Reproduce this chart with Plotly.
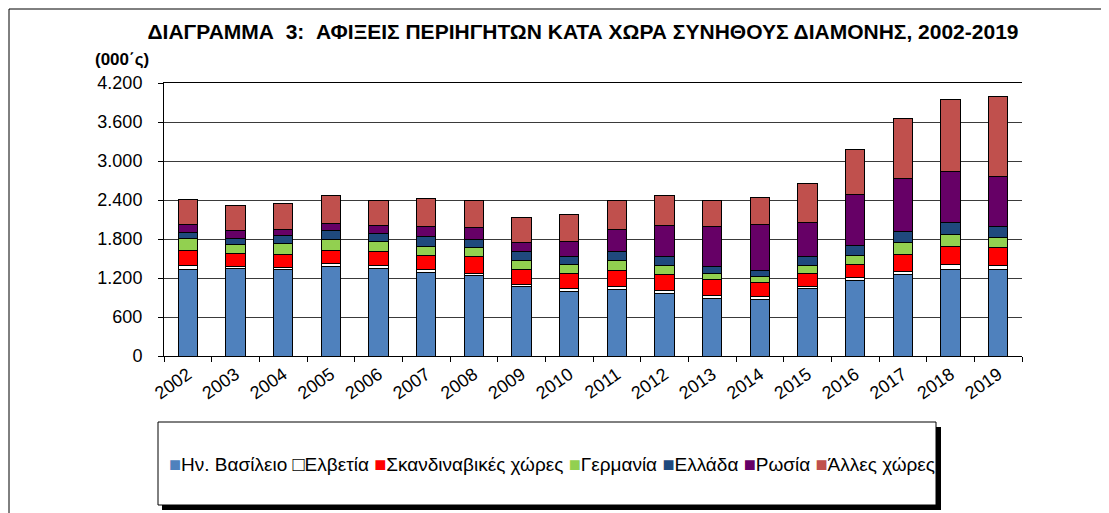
import plotly.graph_objects as go

# data (thousands of arrivals)
years = [str(y) for y in range(2002, 2020)]
uk = [1328, 1343, 1328, 1379, 1353, 1282, 1231, 1062, 991, 1021, 955, 888, 867, 1036, 1158, 1248, 1325, 1325]
switzerland = [66, 41, 40, 46, 46, 46, 46, 41, 46, 46, 46, 46, 51, 41, 46, 56, 77, 66]
scandinavia = [235, 199, 200, 194, 204, 224, 260, 235, 229, 245, 255, 240, 220, 199, 209, 256, 276, 271]
germany = [173, 127, 168, 178, 153, 138, 133, 127, 143, 153, 143, 97, 81, 122, 133, 184, 189, 159]
greece = [103, 103, 123, 133, 123, 148, 127, 138, 128, 143, 133, 108, 102, 138, 153, 169, 189, 169]
russia = [112, 112, 81, 102, 123, 148, 184, 148, 219, 332, 470, 607, 704, 520, 781, 824, 778, 777]
other = [393, 383, 409, 439, 393, 434, 419, 383, 414, 450, 464, 414, 409, 597, 693, 920, 1105, 1218]

series = [
    ("Ην. Βασίλειο", uk, "#4F81BD"),
    ("Ελβετία", switzerland, "#FFFFFF"),
    ("Σκανδιναβικές χώρες", scandinavia, "#FF0000"),
    ("Γερμανία", germany, "#92D050"),
    ("Ελλάδα", greece, "#1F497D"),
    ("Ρωσία", russia, "#660066"),
    ("Άλλες χώρες", other, "#C0504D"),
]

FONT = "Liberation Sans, Arial, sans-serif"

fig = go.Figure()
for name, vals, col in series:
    fig.add_trace(go.Bar(x=years, y=vals, name=name, showlegend=False,
                         marker=dict(color=col, line=dict(color="#000000", width=1))))

# the page has an 8px body margin, so figure = screen - 8
OFF = 8
FW, FH = 1109 - OFF, 513 - OFF
# plot area in screen pixels (from the reference)
L, R, T, B = 164, 1022, 83, 356
W, H = R - L, B - T


def px(x):
    return (x - L) / W


def py(y):
    return (B - y) / H


# legend built as one text line with coloured squares
parts = []
for name, vals, col in series:
    if col == "#FFFFFF":
        sq = '<span style="font-size:20px;color:#000000">□</span>'
    else:
        sq = f'<span style="font-size:20px;color:{col}">■</span>'
    parts.append(sq + name)
legend_text = "\u00a0".join(parts)

shapes = [
    # outer frame
    dict(type="rect", xref="paper", yref="paper", x0=px(9), x1=px(1103), y0=py(540), y1=py(9),
         line=dict(color="#000000", width=1), fillcolor="rgba(0,0,0,0)", layer="below"),
    # legend box shadow + box
    dict(type="rect", xref="paper", yref="paper", x0=px(162), x1=px(941), y0=py(510), y1=py(427),
         line=dict(width=0), fillcolor="#000000", layer="below"),
    dict(type="rect", xref="paper", yref="paper", x0=px(158), x1=px(936), y0=py(505), y1=py(422),
         line=dict(color="#000000", width=1), fillcolor="#FFFFFF", layer="below"),
]

fig.update_layout(
    width=FW, height=FH,
    barmode="stack", bargap=0.6,
    separators=",.",
    paper_bgcolor="#FFFFFF", plot_bgcolor="#FFFFFF",
    margin=dict(l=L - OFF, r=FW - (R - OFF), t=T - OFF, b=FH - (B - OFF)),
    font=dict(family=FONT, color="#000000"),
    title=dict(text="ΔΙΑΓΡΑΜΜΑ\u00a0\u00a03:\u00a0\u00a0ΑΦΙΞΕΙΣ ΠΕΡΙΗΓΗΤΩΝ ΚΑΤΑ ΧΩΡΑ ΣΥΝΗΘΟΥΣ ΔΙΑΜΟΝΗΣ, 2002-2019",
               font=dict(size=21, family=FONT, color="#000000", weight="bold"),
               x=(583 - OFF) / FW, xanchor="center", xref="container",
               y=1 - (32 - OFF) / FH, yanchor="middle", yref="container"),
    showlegend=False,
    shapes=shapes,
    annotations=[
        dict(text="<b>(000΄ς)</b>", xref="paper", yref="paper", x=px(93), y=py(59),
             xanchor="left", yanchor="middle", showarrow=False, font=dict(size=17, family=FONT)),
        dict(text=legend_text, xref="paper", yref="paper", x=px(552), y=py(464),
             xanchor="center", yanchor="middle", showarrow=False, font=dict(size=19, family=FONT)),
    ],
)

fig.update_xaxes(type="category", showline=True, linecolor="#000000", linewidth=1, mirror=True,
                 ticks="outside", tickson="boundaries", ticklen=5, tickcolor="#000000",
                 tickangle=-35, tickfont=dict(size=18), showgrid=False)
fig.update_yaxes(range=[0, 4200], dtick=600, tickformat=",d", showline=True, linecolor="#000000",
                 linewidth=1, ticks="outside", ticklen=5, tickcolor="#000000",
                 ticklabelstandoff=12, tickfont=dict(size=18),
                 showgrid=True, gridcolor="#3a3a3a", gridwidth=1, zeroline=False)

fig.write_html("out.html")
